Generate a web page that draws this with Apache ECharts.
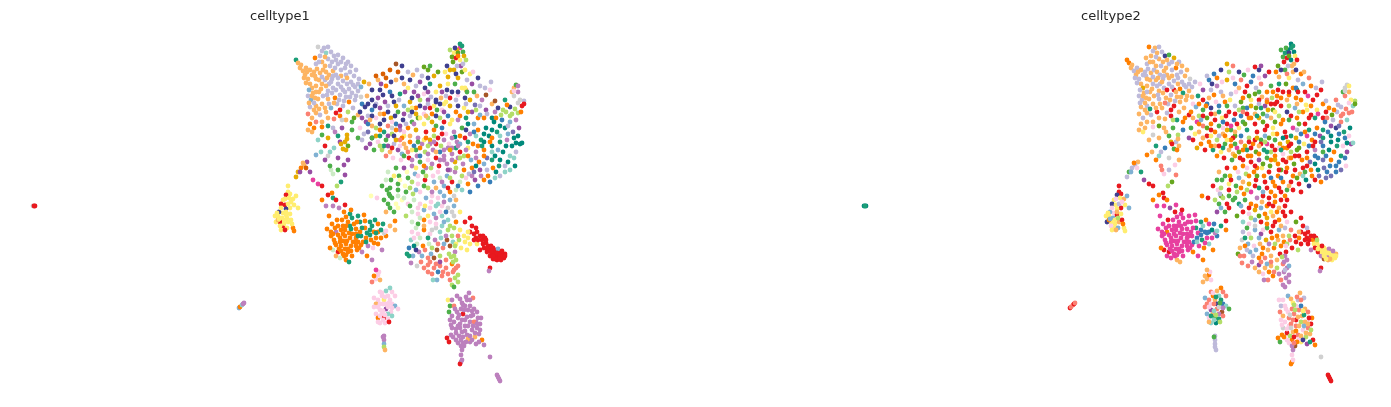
<!DOCTYPE html>
<html><head><meta charset="utf-8">
<style>html,body{margin:0;padding:0;background:#fff}#c{width:1391px;height:407px}</style>
<script src="https://cdn.jsdelivr.net/npm/echarts@6/dist/echarts.min.js"></script>
</head><body><div id="c"></div>
<script>
// Each point: [umap1, umap2, "<celltype1 code><celltype2 code>"]
const panelTitles=["celltype1","celltype2"];
const palette={a:"#ff7f00",b:"#e8191f",c:"#bc80bd",d:"#fdb462",e:"#bebada",f:"#ffed6f",g:"#fccde5",h:"#fb8072",i:"#80b1d3",j:"#b3de69",k:"#8dd3c7",l:"#e7409f",m:"#4daf4a",n:"#1b9e77",o:"#3f3f8f",p:"#377eb8",q:"#984ea3",r:"#a65628",s:"#d0d0d0",t:"#ccebc5",u:"#66a61e",v:"#e6ab02",w:"#00897b",x:"#ffffb3",y:"#7570b3",z:"#d95f02"};
const outliers=[[33,206,"sw"],[35,206,"bw"],[34,206,"bn"],[239,308,"ib"],[240,307,"ah"],[242,305,"kh"],[243,304,"cb"],[244,303,"ch"],[497,375,"cb"],[498,377,"cb"],[499,379,"cb"],[500,381,"cb"],[490,357,"cs"],[461,362,"ca"],[460,364,"ba"],[462,360,"cg"],[461,355,"cg"],[462,350,"cc"],[461,346,"cc"],[463,343,"ch"],[384,336,"ce"],[384,340,"ce"],[384,344,"ie"],[384,347,"je"],[385,350,"de"],[383,337,"cm"]];
const topLeft=[[296,60,"na"],[298,63,"da"],[300,68,"dd"],[303,71,"de"],[305,75,"dd"],[308,79,"de"],[306,68,"de"],[310,70,"dd"],[314,72,"de"],[317,69,"de"],[320,73,"dd"],[323,70,"de"],[326,72,"dd"],[329,75,"de"],[333,71,"dd"],[315,76,"de"],[310,84,"dd"],[312,88,"dv"],[306,83,"de"],[319,80,"dd"],[322,84,"de"],[316,86,"dd"],[313,93,"dd"],[308,96,"ee"],[311,100,"ie"],[315,98,"dd"],[319,92,"dd"],[325,80,"ed"],[329,84,"ee"],[332,79,"ee"],[336,75,"ed"],[328,91,"ed"],[333,88,"ee"],[338,84,"ee"],[343,90,"eb"],[347,84,"ed"],[351,82,"ee"],[355,87,"ee"],[358,91,"ed"],[352,93,"en"],[346,97,"ed"],[340,95,"ee"],[335,98,"ad"],[328,99,"de"],[322,104,"dd"],[316,106,"de"],[310,107,"ed"],[308,114,"hd"],[312,118,"de"],[316,113,"dd"],[320,115,"ee"],[326,112,"db"],[331,108,"id"],[337,104,"ee"],[343,106,"eb"],[349,102,"ad"],[355,100,"ed"],[361,97,"sd"],[358,84,"ee"],[318,47,"sa"],[324,48,"ed"],[328,47,"ee"],[326,53,"kd"],[320,56,"ed"],[315,58,"ad"],[328,59,"ed"],[334,56,"eo"],[338,55,"em"],[343,58,"ev"],[348,62,"ee"],[351,66,"ed"],[345,68,"ea"],[338,64,"ee"],[332,62,"ed"],[322,62,"dd"],[316,64,"ee"],[356,70,"ed"],[341,76,"dd"],[346,75,"ee"],[310,124,"ad"],[308,130,"dd"],[314,128,"ad"],[322,122,"dd"],[328,126,"nu"],[334,119,"hd"],[340,116,"ab"],[346,120,"dn"],[353,108,"ed"],[340,110,"bb"],[333,128,"ed"],[322,135,"ms"],[328,138,"vd"],[318,140,"kd"],[342,128,"qm"],[352,122,"ma"],[358,115,"db"],[347,135,"vj"],[345,142,"ve"],[348,146,"ud"],[343,149,"vm"],[334,148,"kp"],[330,152,"ke"],[328,156,"sk"],[321,152,"kd"],[316,155,"ia"],[348,160,"qd"],[358,138,"mq"],[338,136,"nm"],[325,146,"bn"],[307,162,"qd"],[304,165,"de"],[301,168,"ae"],[298,172,"vm"],[313,180,"lq"],[318,184,"lb"],[322,186,"bb"],[331,170,"th"],[333,174,"tg"],[338,170,"me"],[341,182,"nu"],[337,186,"jj"],[345,175,"qh"]];
const topLeftFill=[[301,65,"dd"],[304,78,"de"],[307,72,"dd"],[312,75,"de"],[316,79,"dd"],[322,77,"ee"],[327,78,"dd"],[331,82,"ed"],[326,86,"de"],[321,89,"dd"],[316,92,"de"],[312,96,"dd"],[309,90,"ie"],[309,103,"de"],[314,103,"ed"],[318,99,"dd"],[323,96,"ed"],[327,95,"ee"],[332,93,"ed"],[336,90,"eb"],[341,87,"ee"],[345,92,"ed"],[349,89,"ea"],[353,85,"ee"],[350,97,"ed"],[344,101,"ee"],[339,100,"ed"],[334,103,"dh"],[329,104,"ed"],[325,108,"dd"],[319,109,"dn"],[314,110,"dd"],[322,51,"ee"],[325,57,"de"],[319,62,"ed"],[331,52,"ee"],[336,60,"ed"],[341,62,"ee"],[346,64,"ed"],[330,66,"ee"],[325,66,"dd"],[335,68,"ed"],[341,70,"ee"],[350,72,"ee"],[347,78,"de"],[343,81,"ee"],[338,78,"ed"],[333,76,"ee"],[354,76,"ed"],[361,87,"ie"],[364,82,"ve"],[359,79,"es"],[356,96,"ed"],[312,132,"df"],[316,122,"hd"],[322,127,"ag"],[328,118,"dd"],[336,113,"be"],[342,120,"sj"],[348,112,"jd"],[354,118,"ua"],[362,104,"pg"],[335,132,"cd"],[340,142,"qv"],[352,130,"mp"],[346,150,"va"],[341,144,"vb"],[347,139,"vd"],[303,163,"da"],[306,168,"zg"],[300,172,"qi"],[296,177,"ve"],[310,172,"qn"],[344,165,"qg"],[338,158,"qs"],[325,160,"qa"],[330,166,"mh"]];
const topCenter=[[378,80,"dp"],[383,74,"zp"],[386,78,"za"],[390,70,"zo"],[386,86,"ac"],[380,90,"oe"],[372,90,"oq"],[367,96,"dn"],[372,100,"ob"],[378,98,"qd"],[383,95,"oa"],[390,92,"pe"],[396,64,"rv"],[402,66,"oh"],[396,80,"dv"],[402,78,"og"],[408,72,"eo"],[413,75,"dm"],[408,88,"fd"],[414,92,"qb"],[400,94,"ne"],[394,102,"oa"],[388,106,"ep"],[380,108,"qo"],[372,110,"pm"],[365,107,"oi"],[360,112,"oa"],[368,116,"ej"],[376,118,"gu"],[384,114,"ad"],[391,118,"vf"],[398,112,"mb"],[404,106,"ie"],[410,102,"vu"],[416,108,"ap"],[420,100,"jf"],[424,67,"ub"],[428,70,"uo"],[430,66,"mq"],[420,82,"qp"],[425,88,"oe"],[430,84,"nh"],[436,92,"fa"],[431,97,"ed"],[441,98,"dj"],[424,94,"gu"],[447,90,"ob"],[440,86,"vm"],[454,70,"vm"],[456,74,"oh"],[462,72,"ud"],[467,80,"ee"],[462,88,"fa"],[472,84,"qi"],[477,96,"dl"],[470,100,"va"],[465,98,"oa"],[456,100,"ed"],[450,106,"vb"],[444,104,"fb"],[437,110,"mv"],[430,108,"bn"],[424,114,"gd"],[418,118,"ua"],[410,116,"ep"],[403,120,"op"],[396,124,"pb"],[388,126,"hm"],[380,124,"oa"],[372,126,"dh"],[366,122,"ql"],[360,128,"gm"],[368,132,"yd"],[376,136,"vb"],[384,132,"na"],[392,134,"jd"],[400,130,"cm"],[408,128,"af"],[416,130,"vn"],[424,124,"fb"],[432,122,"vu"],[440,118,"jd"],[448,116,"pj"],[456,112,"ao"],[464,108,"fi"],[472,112,"qa"],[480,106,"ea"],[486,110,"qf"],[460,48,"ln"],[460,44,"nw"],[457,50,"vw"],[454,53,"fn"],[458,53,"uo"],[463,52,"mw"],[452,57,"um"],[456,58,"bb"],[460,60,"fw"],[464,56,"vf"],[466,60,"jb"],[461,66,"qd"],[457,66,"ee"],[453,62,"ub"],[448,77,"vd"],[445,72,"fa"],[485,88,"ee"],[490,90,"gb"],[492,104,"da"],[487,114,"el"],[478,118,"ab"],[495,112,"cb"],[501,115,"ju"],[506,112,"je"],[512,114,"jh"],[518,113,"jh"],[522,106,"bk"],[524,101,"ej"],[520,100,"sf"],[514,88,"ds"],[516,85,"ms"],[518,92,"cd"],[512,92,"dm"],[524,104,"bu"],[521,112,"ah"],[505,100,"nh"],[510,107,"oe"],[495,101,"re"],[498,108,"oa"]];
const topCenterFill=[[376,76,"ze"],[381,84,"qo"],[391,82,"og"],[398,72,"zj"],[404,84,"dp"],[410,80,"oh"],[417,70,"eg"],[422,76,"ep"],[428,78,"og"],[434,76,"vq"],[438,72,"ub"],[442,92,"qa"],[448,84,"fn"],[452,92,"ob"],[436,100,"oh"],[428,92,"qm"],[416,86,"eb"],[412,98,"oa"],[405,92,"qg"],[399,100,"ef"],[392,96,"od"],[385,102,"qg"],[376,104,"ep"],[368,104,"oa"],[362,118,"qd"],[372,116,"ob"],[380,114,"db"],[388,112,"on"],[396,106,"vm"],[404,114,"qb"],[412,108,"fm"],[420,106,"ov"],[428,100,"qb"],[434,106,"fq"],[442,110,"gu"],[450,98,"ba"],[458,106,"oj"],[466,104,"ed"],[474,92,"mb"],[482,100,"cb"],[466,90,"dn"],[455,84,"mu"],[458,95,"ga"],[446,102,"fb"],[440,104,"ob"],[432,114,"am"],[425,108,"qu"],[416,114,"vb"],[408,110,"jj"],[400,126,"ql"],[392,122,"gp"],[384,120,"ob"],[376,128,"ju"],[368,124,"pa"],[364,134,"ef"],[372,138,"og"],[380,130,"ab"],[388,136,"qe"],[396,130,"av"],[404,136,"fu"],[412,122,"mm"],[420,118,"fa"],[428,118,"jv"],[436,126,"mb"],[444,122,"bu"],[452,120,"fa"],[460,116,"ab"],[468,112,"vj"],[476,110,"jf"],[484,118,"an"],[492,118,"wb"],[496,118,"ah"],[503,110,"ja"],[510,116,"jh"],[515,109,"jh"],[518,103,"sg"],[514,96,"sh"],[450,70,"vo"],[447,66,"ou"],[458,78,"vf"],[465,70,"fo"],[470,74,"fa"],[450,50,"jm"],[462,46,"nn"],[458,56,"au"],[455,48,"om"],[463,64,"ed"],[465,88,"fp"],[473,72,"gd"],[478,78,"oh"],[480,86,"ea"],[486,95,"rb"],[491,82,"ee"],[518,86,"cf"],[514,91,"gs"],[507,105,"ae"]];
const center=[[362,140,"eb"],[370,144,"qa"],[378,142,"ga"],[386,140,"mj"],[394,144,"em"],[402,138,"ab"],[410,136,"dp"],[418,138,"cj"],[426,132,"bb"],[434,130,"ab"],[442,128,"pf"],[450,124,"fa"],[458,120,"cm"],[466,118,"na"],[474,124,"ib"],[382,150,"jn"],[390,152,"df"],[398,150,"qd"],[406,148,"dl"],[414,146,"pv"],[422,144,"ca"],[430,140,"vm"],[438,138,"bu"],[446,134,"ga"],[454,132,"cb"],[462,128,"ml"],[470,134,"cp"],[478,130,"an"],[486,128,"wa"],[494,122,"wp"],[502,120,"pe"],[510,122,"ih"],[516,120,"ck"],[519,128,"qw"],[513,132,"yn"],[505,128,"wo"],[497,132,"np"],[489,136,"wq"],[481,140,"na"],[473,144,"af"],[465,138,"bv"],[457,142,"cv"],[449,144,"gv"],[441,146,"jb"],[433,150,"cn"],[425,152,"ju"],[417,156,"ca"],[409,158,"bb"],[401,160,"gm"],[393,158,"gb"],[520,144,"wq"],[516,143,"ww"],[512,146,"wg"],[522,143,"wk"],[507,140,"cw"],[500,142,"nw"],[492,146,"wp"],[484,150,"ac"],[476,152,"cb"],[468,148,"fu"],[460,152,"bj"],[452,154,"cg"],[444,156,"ca"],[436,158,"bm"],[428,160,"gq"],[420,162,"mb"],[412,166,"ca"],[404,168,"qa"],[396,168,"mb"],[388,172,"td"],[516,152,"eq"],[510,156,"kn"],[503,152,"wa"],[495,156,"wp"],[487,158,"yp"],[479,162,"ay"],[471,160,"ia"],[463,164,"cu"],[455,162,"vb"],[447,164,"ca"],[439,166,"bu"],[431,168,"jf"],[423,172,"ma"],[415,174,"ij"],[407,172,"xg"],[399,176,"mv"],[391,180,"mm"],[515,166,"wg"],[510,170,"ky"],[505,172,"kp"],[499,166,"np"],[493,168,"ay"],[487,170,"ew"],[481,176,"ca"],[475,180,"qw"],[469,174,"ed"],[462,176,"ja"],[455,172,"cb"],[447,176,"ia"],[440,178,"tp"],[433,176,"ga"],[425,180,"bb"],[418,184,"gv"],[412,182,"jd"],[405,186,"xm"],[398,184,"mf"],[390,188,"mj"],[500,176,"ey"],[495,178,"ky"],[490,182,"pa"],[478,186,"po"],[468,184,"ab"],[460,182,"tb"],[452,182,"ba"],[444,186,"ia"],[436,188,"db"],[428,188,"jn"],[420,192,"gl"],[413,194,"ja"],[406,192,"mj"],[398,196,"tm"],[390,196,"mu"],[466,130,"oe"],[455,137,"wb"],[444,112,"qf"],[436,102,"oa"],[428,104,"ee"],[418,96,"qu"],[412,112,"oh"],[406,124,"eb"],[400,140,"ha"],[395,116,"ob"],[375,106,"oa"],[369,84,"dg"],[475,105,"yf"],[480,115,"ib"],[467,92,"mb"],[458,92,"ob"],[446,96,"ea"],[436,116,"oi"],[426,116,"dn"],[414,124,"cu"],[404,132,"gd"],[392,128,"sg"],[380,136,"nf"],[370,120,"di"],[424,140,"fb"],[434,136,"ji"],[444,140,"cm"],[452,138,"cw"],[460,136,"an"],[468,124,"wu"],[476,136,"kl"],[484,142,"wb"],[492,138,"an"],[500,136,"kw"],[508,134,"ip"],[416,150,"mn"],[410,142,"ah"],[402,154,"id"],[394,136,"oa"],[386,156,"ha"],[426,168,"ca"],[438,172,"gb"],[450,170,"cu"],[458,158,"cd"],[472,168,"ab"],[484,164,"iw"],[440,152,"pj"],[430,144,"cb"],[448,148,"cg"],[456,148,"na"],[464,156,"jb"],[478,146,"ap"],[492,152,"km"]];
const centerFill=[[374,150,"mb"],[366,148,"qv"],[384,146,"nd"],[392,148,"bn"],[400,146,"ga"],[408,152,"hu"],[420,148,"ab"],[428,146,"jd"],[436,144,"bl"],[444,150,"cb"],[452,148,"ca"],[460,144,"ib"],[468,142,"np"],[476,158,"ca"],[484,134,"wp"],[492,130,"wn"],[500,126,"wq"],[508,126,"ey"],[514,138,"wp"],[506,146,"wn"],[498,150,"iw"],[490,142,"ay"],[482,146,"nb"],[474,132,"pa"],[466,150,"cu"],[458,146,"cb"],[450,150,"vn"],[442,134,"bf"],[434,142,"cj"],[426,138,"av"],[418,142,"mb"],[412,150,"fa"],[404,144,"dm"],[396,140,"vf"],[388,146,"qb"],[380,146,"ja"],[372,138,"md"],[404,156,"mv"],[412,160,"cb"],[420,156,"pa"],[428,154,"ca"],[436,152,"dn"],[444,160,"cv"],[452,160,"cb"],[460,158,"ja"],[468,156,"ab"],[476,166,"wb"],[484,156,"ap"],[492,160,"ny"],[500,160,"wa"],[508,162,"wp"],[514,158,"kp"],[518,136,"wg"],[505,166,"ep"],[496,172,"wp"],[488,176,"ay"],[480,170,"qa"],[472,176,"ck"],[464,170,"ab"],[456,168,"ja"],[448,170,"qb"],[440,160,"ca"],[432,164,"cu"],[424,166,"ab"],[416,168,"fg"],[408,178,"mi"],[400,180,"xb"],[394,176,"fm"],[386,180,"tm"],[382,186,"mb"],[410,188,"ja"],[418,176,"ga"],[426,176,"ju"],[434,182,"ib"],[442,182,"ca"],[450,178,"jp"],[458,186,"pd"],[466,178,"gu"],[474,172,"ym"],[484,180,"ab"],[416,190,"ij"],[424,186,"mb"],[432,192,"ci"],[440,192,"ia"],[448,188,"bb"],[454,196,"sa"],[470,192,"pb"],[404,198,"tm"],[410,206,"mi"],[398,208,"xb"],[394,212,"mm"],[392,198,"mj"],[386,212,"dq"],[389,194,"me"],[398,190,"mb"]];
const lowerCenter=[[388,204,"mm"],[384,200,"mj"],[390,208,"mi"],[396,204,"xb"],[402,200,"xm"],[408,204,"gn"],[414,200,"tm"],[420,204,"ga"],[426,198,"ic"],[432,196,"gb"],[438,198,"gb"],[444,196,"ia"],[450,192,"ab"],[456,190,"tm"],[462,190,"kb"],[387,190,"mg"],[377,198,"gb"],[371,196,"xa"],[412,212,"tb"],[418,214,"gg"],[424,210,"iv"],[430,208,"gi"],[436,206,"ka"],[442,206,"gb"],[448,208,"sd"],[454,206,"ib"],[460,212,"fb"],[406,216,"ju"],[412,222,"tk"],[418,224,"mg"],[424,220,"ai"],[430,222,"gb"],[436,218,"cv"],[442,216,"kd"],[448,220,"ka"],[454,216,"sb"],[465,222,"bu"],[470,218,"bb"],[412,232,"ge"],[418,234,"gg"],[424,230,"ai"],[430,234,"gq"],[436,228,"sm"],[442,226,"kb"],[448,230,"ji"],[454,228,"je"],[460,230,"fh"],[464,236,"fb"],[468,232,"fd"],[472,226,"bb"],[476,228,"be"],[411,240,"ks"],[417,244,"ti"],[423,246,"ag"],[429,244,"td"],[435,240,"cv"],[441,238,"ka"],[447,240,"rd"],[453,242,"ka"],[459,240,"jh"],[465,242,"fb"],[407,254,"nu"],[413,256,"ih"],[419,252,"ci"],[425,250,"hi"],[431,254,"ia"],[437,250,"rd"],[443,248,"ha"],[449,254,"jb"],[455,252,"cb"],[461,248,"fb"],[467,250,"fj"],[421,262,"hc"],[428,265,"hq"],[434,268,"hd"],[440,266,"hd"],[446,268,"hj"],[452,264,"ah"],[456,268,"hc"],[432,274,"hg"],[437,280,"ih"],[442,276,"ha"],[448,274,"hc"],[453,272,"hc"],[458,266,"hi"],[454,256,"jc"],[456,260,"jc"],[453,262,"jc"],[455,278,"jc"],[458,282,"jc"],[490,268,"bb"],[489,271,"cc"],[395,230,"da"],[414,246,"wa"]];
const lowerFill=[[438,204,"kb"],[444,202,"ca"],[450,200,"ib"],[456,200,"db"],[431,202,"gd"],[425,206,"fa"],[418,208,"gb"],[446,212,"pa"],[452,212,"sb"],[440,212,"gf"],[434,214,"ia"],[428,216,"fu"],[420,218,"tj"],[436,224,"ga"],[444,222,"ib"],[450,226,"jd"],[456,222,"ag"],[424,226,"ds"],[416,228,"tm"],[432,230,"sg"],[440,232,"kb"],[446,236,"ca"],[428,238,"ni"],[420,238,"tj"],[414,238,"gn"],[452,236,"jd"],[458,236,"hj"],[474,234,"bb"],[432,248,"ja"],[438,244,"hc"],[444,244,"ij"],[450,246,"ra"],[456,244,"fj"],[409,248,"pd"],[416,250,"oe"],[422,256,"ie"],[428,258,"ha"],[434,258,"rh"],[440,256,"jd"],[428,272,"hd"],[424,268,"hd"],[430,262,"hh"],[436,264,"hi"],[443,272,"hh"],[450,280,"hh"],[454,270,"he"],[433,280,"kc"],[438,272,"pa"],[446,260,"hd"],[440,262,"qh"],[452,285,"jc"],[454,287,"mc"],[458,275,"jc"],[451,257,"jj"],[455,246,"jg"],[411,263,"ch"],[409,256,"nh"],[417,266,"sh"]];
const redTail=[[470,232,"bb"],[477,232,"bb"],[480,236,"bb"],[482,240,"ba"],[483,244,"bf"],[485,238,"bb"],[486,243,"bf"],[488,246,"bf"],[484,248,"bb"],[490,250,"bf"],[493,248,"bf"],[496,250,"bf"],[499,252,"bf"],[502,254,"bf"],[505,254,"bd"],[492,254,"bf"],[495,256,"bf"],[498,256,"bc"],[501,258,"bf"],[504,258,"bf"],[490,256,"bc"],[493,259,"br"],[497,260,"bd"],[501,260,"bf"],[487,252,"bb"],[476,238,"bb"],[470,244,"fb"],[474,240,"bb"],[468,238,"fa"],[477,244,"fb"],[480,250,"bc"],[498,249,"ic"],[483,236,"bb"],[486,240,"bj"],[487,249,"bf"],[491,246,"bb"],[494,252,"bf"],[497,253,"bf"],[500,255,"bf"],[503,256,"bf"],[499,259,"bd"],[495,259,"bf"],[491,252,"bf"],[493,256,"bf"],[502,251,"bc"],[505,256,"bf"],[478,240,"bb"]];
const oranges=[[333,198,"nb"],[332,193,"ab"],[336,200,"ba"],[328,195,"ba"],[333,206,"cl"],[344,212,"ab"],[350,214,"nl"],[346,217,"al"],[342,220,"al"],[337,220,"ab"],[352,218,"nl"],[358,216,"nl"],[360,222,"nl"],[365,221,"al"],[370,222,"nn"],[375,220,"na"],[378,224,"al"],[383,224,"np"],[365,228,"an"],[370,230,"np"],[374,232,"ap"],[356,229,"al"],[350,226,"nl"],[346,226,"al"],[341,230,"al"],[336,232,"ca"],[331,232,"al"],[334,240,"al"],[340,238,"al"],[345,236,"al"],[350,238,"al"],[356,238,"al"],[361,236,"nl"],[366,238,"ap"],[371,240,"an"],[376,238,"al"],[381,238,"al"],[386,236,"ap"],[336,245,"al"],[341,246,"al"],[346,244,"al"],[351,246,"al"],[356,246,"al"],[361,245,"al"],[368,246,"cl"],[373,248,"ga"],[378,244,"ak"],[382,250,"ca"],[338,252,"bb"],[343,254,"al"],[348,252,"al"],[352,256,"al"],[346,260,"ad"],[349,262,"nd"],[344,256,"al"],[336,256,"dl"],[333,250,"tb"],[330,248,"aa"],[340,258,"tl"],[357,250,"al"],[362,252,"ca"],[367,256,"al"],[372,260,"ca"],[384,233,"sc"],[332,224,"al"],[327,229,"al"],[331,236,"al"],[345,230,"al"],[352,234,"al"],[358,242,"al"],[335,228,"al"],[340,242,"al"],[348,249,"al"],[355,242,"al"],[363,242,"ap"],[390,226,"dn"],[386,231,"gk"],[395,221,"ab"],[322,200,"aa"],[329,216,"al"],[326,206,"cl"],[339,208,"cq"],[345,205,"bl"],[351,210,"ab"],[348,222,"al"],[354,224,"al"],[362,228,"nl"],[367,233,"nl"],[372,226,"nk"],[378,232,"ap"],[381,230,"nw"],[353,242,"al"],[343,241,"al"],[338,235,"al"],[343,234,"al"],[349,233,"al"],[347,241,"al"],[339,249,"al"],[345,249,"al"],[351,251,"al"],[346,255,"al"],[341,251,"al"],[335,243,"al"],[360,232,"al"],[356,234,"al"],[370,235,"np"],[376,233,"np"],[359,248,"al"],[366,242,"nk"],[374,243,"al"],[357,222,"al"],[364,215,"al"],[338,226,"al"],[333,234,"al"],[343,226,"al"],[351,229,"nl"],[358,236,"nl"]];
const yellows=[[290,194,"fb"],[288,192,"fb"],[286,195,"bo"],[283,200,"ff"],[281,204,"bo"],[285,205,"bf"],[289,198,"ff"],[293,199,"fd"],[296,196,"fi"],[294,205,"ff"],[290,208,"fb"],[286,209,"of"],[283,213,"fg"],[279,212,"oi"],[275,216,"ff"],[278,216,"ff"],[282,218,"fi"],[286,215,"fb"],[290,214,"ff"],[280,222,"bf"],[276,222,"fo"],[284,224,"ff"],[288,222,"fd"],[291,220,"fb"],[283,228,"bf"],[287,228,"fi"],[280,226,"fg"],[278,220,"da"],[293,228,"af"],[294,231,"af"],[288,186,"fb"],[298,208,"fi"],[285,199,"fg"],[288,204,"fe"],[291,202,"fg"],[286,212,"fd"],[281,208,"fg"],[277,213,"ff"],[279,219,"fi"],[284,220,"ff"],[287,218,"fj"],[281,230,"ff"],[285,230,"bd"],[292,224,"fa"]];
const pinkCluster=[[380,292,"gh"],[386,291,"kd"],[392,292,"gh"],[388,296,"gk"],[382,296,"ga"],[378,300,"gh"],[384,300,"fd"],[390,300,"gn"],[376,304,"dh"],[380,304,"gg"],[386,304,"go"],[392,304,"gp"],[395,306,"ik"],[398,309,"gm"],[374,307,"gh"],[380,310,"gq"],[386,309,"qh"],[391,312,"gr"],[376,314,"gi"],[382,314,"gd"],[388,314,"kc"],[392,316,"kh"],[378,318,"ag"],[384,318,"bm"],[388,319,"gn"],[380,323,"gk"],[385,323,"gw"],[389,322,"bj"],[374,298,"gi"],[395,296,"gh"],[372,282,"hd"],[376,279,"gd"],[378,275,"ga"],[374,276,"ad"],[379,272,"gg"],[376,270,"ld"],[380,280,"dg"],[390,288,"ka"],[383,304,"gh"],[388,307,"gs"],[378,307,"gg"],[383,311,"gk"],[385,315,"gj"],[380,316,"gn"],[383,320,"gk"],[378,322,"gd"],[392,308,"gc"],[382,293,"gg"],[385,297,"gn"],[389,303,"gm"]];
const purpleCluster=[[457,296,"ci"],[460,299,"cd"],[462,303,"cf"],[465,306,"cg"],[468,310,"ch"],[461,309,"ch"],[457,312,"cg"],[452,316,"cd"],[450,320,"cg"],[454,322,"cg"],[458,318,"ch"],[463,314,"bh"],[470,306,"cp"],[474,309,"cd"],[471,316,"cd"],[465,320,"cb"],[458,326,"cg"],[452,328,"cs"],[449,312,"mh"],[450,306,"me"],[448,300,"fg"],[454,306,"hg"],[473,315,"cn"],[476,322,"cg"],[470,322,"cj"],[465,326,"ch"],[462,332,"cd"],[456,333,"cb"],[451,335,"ca"],[447,338,"ba"],[449,342,"bm"],[456,340,"cg"],[461,340,"ca"],[467,335,"ch"],[472,330,"cg"],[477,328,"ch"],[480,324,"cb"],[475,337,"dj"],[470,342,"cf"],[476,344,"cq"],[482,340,"ab"],[484,345,"ca"],[464,346,"cr"],[479,334,"cd"],[481,318,"ca"],[477,312,"ch"],[467,300,"ce"],[473,298,"he"],[452,300,"cg"],[469,293,"cd"],[466,297,"ch"],[468,339,"dg"],[460,324,"ch"],[474,322,"hd"],[468,326,"cd"],[455,309,"cg"],[459,315,"cs"],[464,310,"cj"],[467,317,"cd"],[472,311,"cf"],[462,320,"ch"],[456,329,"cg"],[459,336,"cj"],[465,331,"ca"],[470,336,"cd"],[473,326,"ci"],[478,318,"cb"],[480,330,"cj"],[475,333,"cd"],[463,337,"cb"],[472,340,"co"],[479,342,"cn"],[453,337,"ca"],[458,343,"cg"],[451,325,"cg"],[460,328,"cs"],[463,305,"cj"],[470,300,"ch"],[477,324,"cd"],[466,342,"ca"]];
const groups=[topLeft,topLeftFill,oranges,purpleCluster,redTail,pinkCluster,yellows,lowerCenter,lowerFill,topCenter,topCenterFill,center,centerFill,outliers];
const allPoints=groups.flat();

function panelSeries(i){
  return {type:"scatter",xAxisIndex:i,yAxisIndex:i,symbolSize:4.8,silent:true,animation:false,large:false,progressive:0,
    itemStyle:{opacity:1},
    data:allPoints.map(p=>({value:[p[0],p[1]],itemStyle:{color:palette[p[2][i]],opacity:1}}))};
}
const axisBase={show:false,scale:false};
const titleStyle={fontFamily:"DejaVu Sans",fontSize:13,fontWeight:"normal",color:"#262626"};
const chart=echarts.init(document.getElementById("c"),null,{renderer:"canvas"});
chart.setOption({
  backgroundColor:"#fff",animation:false,
  title:[{text:panelTitles[0],left:245,top:5,textStyle:titleStyle},
         {text:panelTitles[1],left:1076,top:5,textStyle:titleStyle}],
  grid:[{left:22,top:24,width:516,height:372},{left:853,top:24,width:516,height:372}],
  xAxis:[{...axisBase,gridIndex:0,type:"value",min:22,max:538},{...axisBase,gridIndex:1,type:"value",min:22,max:538}],
  yAxis:[{...axisBase,gridIndex:0,type:"value",min:24,max:396,inverse:true},{...axisBase,gridIndex:1,type:"value",min:24,max:396,inverse:true}],
  series:[panelSeries(0),panelSeries(1)]
});
</script></body></html>
